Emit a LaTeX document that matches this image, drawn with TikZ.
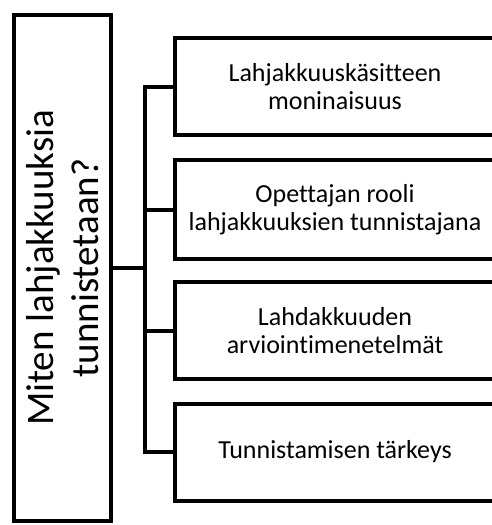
\documentclass[tikz,border=0pt]{standalone}
\usepackage{fontspec}
\setmainfont[Ligatures={NoCommon}]{Carlito}
\begin{document}
\begin{tikzpicture}[x=1pt,y=-1pt,
  box/.style={draw=black,line width=4pt,inner sep=0pt,align=center,fill=white},
  small/.style={font=\fontsize{26}{28}\selectfont},
  big/.style={font=\fontsize{39}{45}\selectfont},
  conn/.style={draw=black,line width=4pt}]
\useasboundingbox (0,0) rectangle (491,525);
\node[box,big,minimum width=97pt,minimum height=506pt] (L) at (62.5,268) {};
\node[big,rotate=90,align=center] (Lt) at (L.center) {Miten lahjakkuuksia\\tunnistetaan?};
\node[box,small,minimum width=320pt,minimum height=97pt] (b1) at (335,86.5) {Lahjakkuusk\"asitteen\\moninaisuus};
\node[box,small,minimum width=320pt,minimum height=99pt] (b2) at (335,209.5) {Opettajan rooli\\lahjakkuuksien tunnistajana};
\node[box,small,minimum width=320pt,minimum height=97pt] (b3) at (335,330.5) {Lahdakkuuden\\arviointimenetelm\"at};
\node[box,small,minimum width=320pt,minimum height=97pt] (b4) at (335,452) {Tunnistamisen t\"arkeys};
\coordinate (sp) at (145,0);
\draw[conn] (b1.west) -- (b1.west -| sp) -- (b4.west -| sp) -- (b4.west);
\draw[conn] (b2.west -| sp) -- (b2.west);
\draw[conn] (b3.west -| sp) -- (b3.west);
\draw[conn] (L.east) -- (L.east -| sp);
\end{tikzpicture}
\end{document}
